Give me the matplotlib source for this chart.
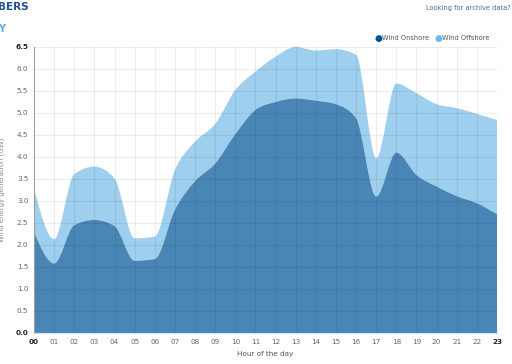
import numpy as np
import matplotlib
matplotlib.use("Agg")
import matplotlib.pyplot as plt
from matplotlib.path import Path
from matplotlib.patches import PathPatch

# Data (GW per hour of the day)
hours = list(range(24))
onshore = [2.30, 1.58, 2.45, 2.57, 2.43, 1.64, 1.68, 2.80, 3.45, 3.85, 4.52, 5.07,
           5.25, 5.33, 5.28, 5.20, 4.88, 3.10, 4.10, 3.59, 3.33, 3.11, 2.95, 2.70]
offshore = [0.99, 0.55, 1.16, 1.21, 1.08, 0.51, 0.51, 0.90, 0.90, 0.90, 1.00, 0.87,
            1.03, 1.17, 1.14, 1.25, 1.44, 0.87, 1.57, 1.86, 1.87, 2.00, 2.03, 2.14]
hour_labels = ["%02d" % h for h in hours]
y_ticks = [i * 0.5 for i in range(14)]

dark = "#4a86b5"
light = "#9fcfee"


def monotone_tangents(x, y):
    # same slopes d3.curveMonotoneX uses
    x = np.asarray(x, float)
    y = np.asarray(y, float)
    n = len(x)
    t = np.zeros(n)
    for i in range(1, n - 1):
        h0 = x[i] - x[i - 1]
        h1 = x[i + 1] - x[i]
        s0 = (y[i] - y[i - 1]) / h0
        s1 = (y[i + 1] - y[i]) / h1
        p = (s0 * h1 + s1 * h0) / (h0 + h1)
        t[i] = (np.sign(s0) + np.sign(s1)) * min(abs(s0), abs(s1), 0.5 * abs(p))
    h = x[1] - x[0]
    t[0] = (3 * (y[1] - y[0]) / h - t[1]) / 2
    h = x[-1] - x[-2]
    t[-1] = (3 * (y[-1] - y[-2]) / h - t[-2]) / 2
    return t


def curve_segments(x, y):
    t = monotone_tangents(x, y)
    verts = []
    for i in range(len(x) - 1):
        dx = x[i + 1] - x[i]
        verts += [(x[i] + dx / 3, y[i] + dx * t[i] / 3),
                  (x[i + 1] - dx / 3, y[i + 1] - dx * t[i + 1] / 3),
                  (x[i + 1], y[i + 1])]
    return verts


def area_path(x, top, bottom):
    verts = [(x[0], bottom[0])]
    codes = [Path.MOVETO]
    verts.append((x[0], top[0]))
    codes.append(Path.LINETO)
    seg = curve_segments(x, top)
    verts += seg
    codes += [Path.CURVE4] * len(seg)
    verts.append((x[-1], bottom[-1]))
    codes.append(Path.LINETO)
    seg = curve_segments(x[::-1], bottom[::-1])
    verts += seg
    codes += [Path.CURVE4] * len(seg)
    verts.append((x[0], bottom[0]))
    codes.append(Path.CLOSEPOLY)
    return Path(verts, codes)


fig = plt.figure(figsize=(5.12, 3.64), dpi=100)
ax = fig.add_axes([0.0664, 0.0852, 0.9043, 0.7857])

total = [a + b for a, b in zip(onshore, offshore)]
zeros = [0.0] * len(hours)
ax.add_patch(PathPatch(area_path(hours, total, onshore), facecolor=light,
                       edgecolor="none", zorder=2))
ax.add_patch(PathPatch(area_path(hours, onshore, zeros), facecolor=dark,
                       edgecolor="none", zorder=2))

ax.set_xlim(0, 23)
ax.set_ylim(0, 6.5)
ax.set_xticks(hours)
ax.set_xticklabels(hour_labels)
ax.set_yticks(y_ticks)
ax.set_yticklabels(["%.1f" % v for v in y_ticks])
ax.tick_params(labelsize=5.2, colors="#666666", length=0, pad=4)
for lab in (ax.get_xticklabels()[0], ax.get_xticklabels()[-1],
            ax.get_yticklabels()[0], ax.get_yticklabels()[-1]):
    lab.set_fontweight("bold")
    lab.set_color("#222222")
ax.grid(True, color="black", alpha=0.07, linewidth=0.8, zorder=3)
ax.set_axisbelow(False)
for s in ("top", "right"):
    ax.spines[s].set_visible(False)
ax.spines["left"].set_color("#aaaaaa")
ax.spines["bottom"].set_color("#cfe3f2")

ax.set_xlabel("Hour of the day", fontsize=5.2, color="#555555")
ax.xaxis.set_label_coords(0.5, -0.062)
ax.set_ylabel("Wind energy generation (GW)", fontsize=5, color="#888888")
ax.yaxis.set_label_coords(-0.062, 0.5)

# legend
fig.text(0.731, 0.895, "\u25CF", color="#0b4f9c", fontsize=6.5, va="center")
fig.text(0.747, 0.895, "Wind Onshore", color="#555555", fontsize=4.8, va="center")
fig.text(0.848, 0.895, "\u25CF", color="#6db8e8", fontsize=6.5, va="center")
fig.text(0.864, 0.895, "Wind Offshore", color="#555555", fontsize=4.8, va="center")

# header bits
fig.text(0.997, 0.978, "Looking for archive data?", color="#3a6ea5", fontsize=4.8,
         ha="right", va="center")
fig.text(-0.003, 0.995, "BERS", color="#1f4e96", fontsize=7.5, fontweight="bold",
         ha="left", va="top")
fig.text(-0.003, 0.935, "Y", color="#5aaee6", fontsize=7, fontweight="bold",
         ha="left", va="top")

fig.savefig("out.png", dpi=100)
